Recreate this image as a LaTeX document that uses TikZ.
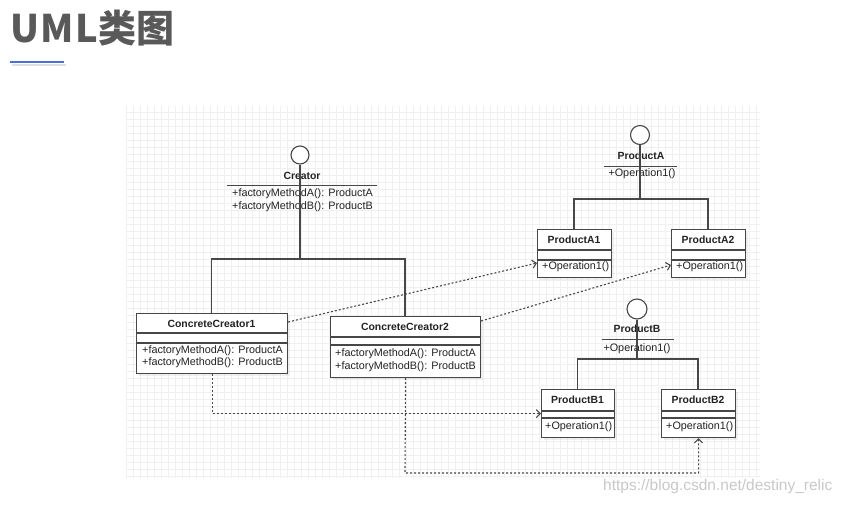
\documentclass[tikz,border=0pt]{standalone}
\usepackage{fontspec}
\setmainfont{Liberation Sans}
\newfontfamily\titlefont{Noto Sans CJK SC}
\usetikzlibrary{arrows.meta,shadows}

\definecolor{linecol}{HTML}{474747}
\definecolor{textcol}{HTML}{222222}
\definecolor{titlecol}{HTML}{595959}
\definecolor{gridcol}{HTML}{F0F0F0}
\definecolor{accent}{HTML}{4A6FD8}
\definecolor{markcol}{HTML}{C8C8C8}

\tikzset{
  umlbox/.style={draw=linecol, line width=1.1pt, fill=white, anchor=north west,
    inner sep=0pt, drop shadow={shadow xshift=2pt, shadow yshift=-2pt, opacity=0.12}},
  classname/.style={font=\bfseries\fontsize{10.4}{12}\selectfont, text=textcol, inner sep=0pt},
  member/.style={font=\fontsize{10.8}{12}\selectfont, text=textcol, inner sep=0pt, anchor=west},
  lollipop/.style={circle, draw=linecol, line width=1.1pt, fill=white, inner sep=0pt},
  generalize/.style={draw=linecol, line width=1.1pt},
  depends/.style={draw=linecol, line width=1.1pt, dash pattern=on 2pt off 2pt,
    -{Straight Barb[length=4pt, width=8pt]}}
}

\begin{document}
\begin{tikzpicture}[x=1pt, y=-1pt]

    \useasboundingbox (0,0) rectangle (846,504);

    \draw[gridcol, line width=0.5pt, step=7pt] (126,106) grid (760,478);

    % title
    \node[anchor=base west, inner sep=0pt, text=titlecol,
      font=\titlefont\bfseries\fontsize{38}{40}\selectfont] (title) at (10,42)
      {U\kern1.5pt M\kern1.5pt L类图};
    \draw[black!12, line width=2.5pt] (12,65) -- (66,65);
    \draw[accent, line width=1.6pt] (10,62) -- (64,62);

    % Creator
    \node[lollipop, minimum size=18pt] (creator) at (300,155) {};
    \node[classname] (creatorname) at (302,176) {Creator};
    \draw[linecol, line width=1pt] (227,185) -- (377,185);
    \node[member] (creatorops1) at (232,194) {+factoryMethodA(): ProductA};
    \node[member] (creatorops2) at (232,207) {+factoryMethodB(): ProductB};

    % ProductA
    \node[lollipop, minimum size=19pt] (producta) at (640,135) {};
    \node[classname] (productaname) at (641,156) {ProductA};
    \draw[linecol, line width=1pt] (604,166) -- (677,166);
    \node[member, anchor=center] (productaops) at (642,174) {+Operation1()};

    % ProductB
    \node[lollipop, minimum size=20pt] (productb) at (637,309) {};
    \node[classname] (productbname) at (637,329) {ProductB};
    \draw[linecol, line width=1pt] (602,339) -- (674,339);
    \node[member, anchor=center] (productbops) at (637,349) {+Operation1()};

    \coordinate (creatorjoin) at (300,259);
    \coordinate (productajoin) at (640,199);
    \coordinate (productbjoin) at (637,359);
    \coordinate (cc2turn) at (405,473);

    % generalization
    \draw[generalize] (creator) -- (creatorjoin) -| (211.5,313);
    \draw[generalize] (creatorjoin) -| (405,316);
    \draw[generalize] (producta) -- (productajoin) -| (574,229);
    \draw[generalize] (productajoin) -| (708,229);
    \draw[generalize] (productb) -- (productbjoin) -| (577.5,389);
    \draw[generalize] (productbjoin) -| (698,389);

    % classes
    \node[umlbox, minimum width=151pt, minimum height=60pt] (cc1) at (136,313) {};
    \draw[linecol, line width=1.1pt] (136,333) -- (287,333) (136,343) -- (287,343);
    \node[classname] (cc1name) at (211.5,324) {ConcreteCreator1};
    \node[member] (cc1ops1) at (142,351) {+factoryMethodA(): ProductA};
    \node[member] (cc1ops2) at (142,363) {+factoryMethodB(): ProductB};

    \node[umlbox, minimum width=150pt, minimum height=61pt] (cc2) at (330,316) {};
    \draw[linecol, line width=1.1pt] (330,337) -- (480,337) (330,345) -- (480,345);
    \node[classname] (cc2name) at (405,327) {ConcreteCreator2};
    \node[member] (cc2ops1) at (335,354) {+factoryMethodA(): ProductA};
    \node[member] (cc2ops2) at (335,367) {+factoryMethodB(): ProductB};

    \node[umlbox, minimum width=74pt, minimum height=48pt] (pa1) at (537,229) {};
    \draw[linecol, line width=1.1pt] (537,250) -- (611,250) (537,260) -- (611,260);
    \node[classname] (pa1name) at (574,240) {ProductA1};
    \node[member] (pa1ops) at (542,267) {+Operation1()};

    \node[umlbox, minimum width=74pt, minimum height=48pt] (pa2) at (671,229) {};
    \draw[linecol, line width=1.1pt] (671,250) -- (745,250) (671,260) -- (745,260);
    \node[classname] (pa2name) at (708,240) {ProductA2};
    \node[member] (pa2ops) at (676,267) {+Operation1()};

    \node[umlbox, minimum width=73pt, minimum height=48pt] (pb1) at (541,389) {};
    \draw[linecol, line width=1.1pt] (541,411) -- (614,411) (541,418) -- (614,418);
    \node[classname] (pb1name) at (577.5,400) {ProductB1};
    \node[member] (pb1ops) at (545,427) {+Operation1()};

    \node[umlbox, minimum width=74pt, minimum height=48pt] (pb2) at (661,389) {};
    \draw[linecol, line width=1.1pt] (661,411) -- (735,411) (661,418) -- (735,418);
    \node[classname] (pb2name) at (698,400) {ProductB2};
    \node[member] (pb2ops) at (666,427) {+Operation1()};

    % dependencies
    \draw[depends] ([yshift=-9pt]cc1.north east) -- ([yshift=-34pt]pa1.north west);
    \draw[depends] ([yshift=-5pt]cc2.north east) -- ([yshift=-36pt]pa2.north west);
    \draw[depends] (cc1.south) |- (pb1.west);
    \draw[depends] (cc2.south) -- (cc2turn) -| (pb2.south);

    \node[anchor=west, inner sep=0pt, text=markcol, font=\fontsize{15.5}{16}\selectfont]
      (watermark) at (603,486) {https://blog.csdn.net/destiny\_relic};

  \end{tikzpicture}
\end{document}
